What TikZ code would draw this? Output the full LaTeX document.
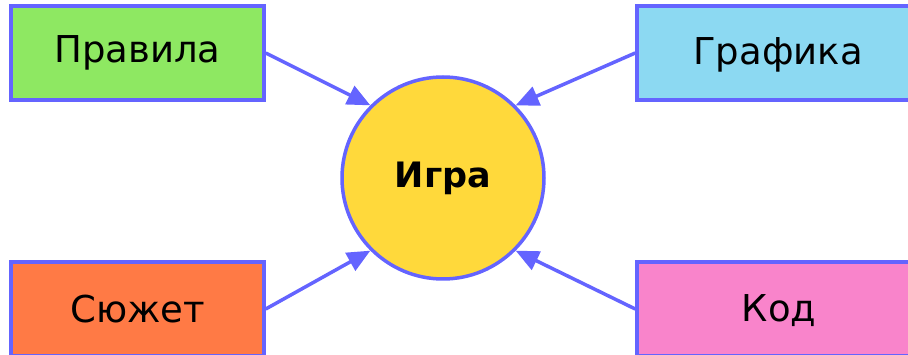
\documentclass[tikz,border=0pt]{standalone}
\usepackage{fontspec}
\setmainfont{DejaVu Sans}
\usetikzlibrary{arrows.meta}
\definecolor{edgeblue}{HTML}{6464FF}
\definecolor{cgreen}{HTML}{8EE862}
\definecolor{cblue}{HTML}{8CD9F2}
\definecolor{corange}{HTML}{FF7A45}
\definecolor{cpink}{HTML}{F984CB}
\definecolor{cyellow}{HTML}{FFD93B}
\tikzset{
  lbl/.style={font=\fontsize{37}{44}\selectfont},
  box/.style={draw=edgeblue, line width=3.5pt, minimum width=253pt, minimum height=94pt, inner sep=0pt, lbl},
  hub/.style={circle, draw=edgeblue, line width=3.5pt, minimum size=202pt, inner sep=0pt, fill=cyellow, font=\fontsize{35}{42}\selectfont\bfseries},
  link/.style={draw=edgeblue, line width=3.5pt, -{Triangle[length=23pt,width=20pt]}}
}
\begin{document}
\begin{tikzpicture}[x=1pt,y=-1pt]
\useasboundingbox (0,0) rectangle (908,355);
\clip (0,0) rectangle (908,355);
\node[box, fill=cgreen] (rules) at (137.5,53) {Правила};
\node[box, fill=cblue, minimum width=280pt] (gfx) at (777,53) {};
\node[lbl] (gfxt) at (778,55) {Графика};
\node[box, fill=corange] (plot) at (137.5,309) {Сюжет};
\node[box, fill=cpink, minimum width=280pt] (code) at (777,309) {};
\node[lbl] (codet) at (779,311) {Код};
\node[hub] (game) at (443,178) {Игра};
\draw[link] (rules.east) -- (game.135);
\draw[link] (gfx.west) -- (game.45);
\draw[link] (plot.east) -- (game.225);
\draw[link] (code.west) -- (game.315);
\end{tikzpicture}
\end{document}
